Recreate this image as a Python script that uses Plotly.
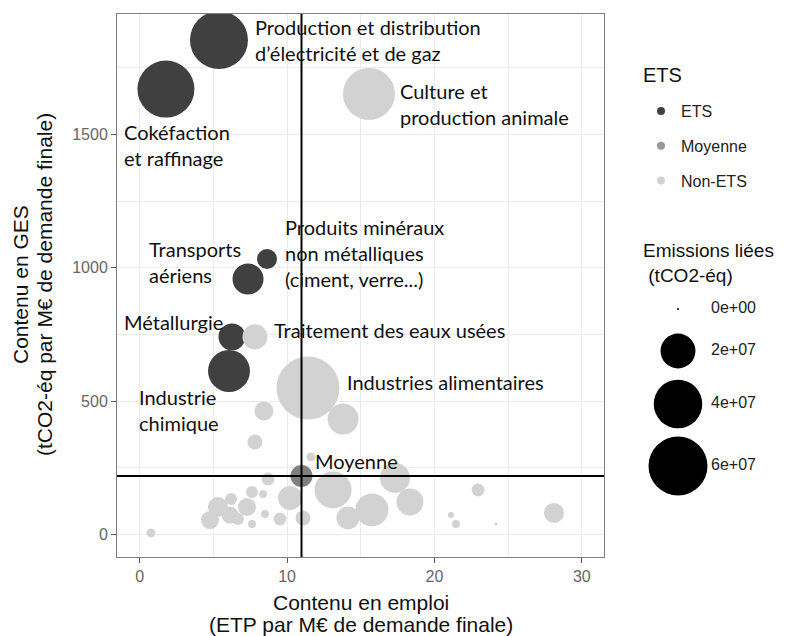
import math
import plotly.graph_objects as go

# ---------------- data ----------------
category_names = ["ETS", "Moyenne", "Non-ETS"]

# ETS sectors
ets_x = [5.38, 1.78, 8.64, 7.35, 6.26, 6.06]
ets_y = [1854, 1670, 1033, 958, 741, 613]
ets_emis = [5.79e7, 5.59e7, 6.0e6, 1.55e7, 1.15e7, 2.95e7]

# Average
moy_x = [10.98]
moy_y = [219]
moy_emis = [7.4e6]

# Non-ETS sectors
non_x = [15.56, 7.82, 11.42, 13.80, 8.43, 7.82, 8.71, 7.62, 8.37, 10.2,
         11.08, 9.52, 8.5, 7.62, 5.31, 4.77, 6.2, 6.13, 7.28, 6.67,
         0.77, 13.12, 17.32, 18.34, 15.76, 14.13, 22.96, 21.12, 21.46, 24.18,
         28.11, 11.62]
non_y = [1652, 741, 549, 433, 463, 347, 208, 159, 152, 137,
         62, 58, 77, 39, 103, 54, 133, 73, 103, 58,
         6, 167, 212, 122, 92, 62, 167, 73, 39, 39,
         81, 291]
non_emis = [4.62e7, 9.8e6, 6.87e7, 1.55e7, 5.3e6, 3.1e6, 2.2e6, 1.85e6, 6.6e5, 8.9e6,
            3.1e6, 2.2e6, 6.6e5, 6.6e5, 6.0e6, 4.7e6, 1.85e6, 4.2e6, 4.7e6, 1.85e6,
            9.0e5, 2.26e7, 1.45e7, 1.15e7, 1.77e7, 8.1e6, 2.2e6, 3.0e5, 6.6e5, 1.8e4,
            6.0e6, 9.0e5]

# labels
label_texts = [
    "Production et distribution<br>d’électricité et de gaz",
    "Culture et<br>production animale",
    "Cokéfaction<br>et raffinage",
    "Produits minéraux<br>non métalliques<br>(ciment, verre...)",
    "Transports<br>aériens",
    "Métallurgie",
    "Traitement des eaux usées",
    "Industries alimentaires",
    "Industrie<br>chimique",
    "Moyenne",
]
label_x = [7.69, 17.53, -1.20, 9.72, 0.50, -1.20, 8.98, 13.93, -0.18, 11.76]
label_y = [1856, 1616, 1460, 1054, 1020, 797, 767, 572, 467, 276]

x_title_lines = ["Contenu en emploi", "(ETP par M€ de demande finale)"]
y_title_lines = ["Contenu en GES", "(tCO2-éq par M€ de demande finale)"]
color_title = "ETS"
size_title = "Emissions liées<br>\u00a0(tCO2-éq)"

size_breaks = [0, 2e7, 4e7, 6e7]
size_labels = ["0e+00", "2e+07", "4e+07", "6e+07"]

x_ticks = [0, 10, 20, 30]
y_ticks = [0, 500, 1000, 1500]

# ---------------- style ----------------
COL = {"ETS": "#404040", "Moyenne": "#7f7f7f", "Non-ETS": "#d2d2d2"}
LEG_COL = {"ETS": "#404040", "Moyenne": "#999999", "Non-ETS": "#d2d2d2"}
SIZE_MIN, SIZE_SPAN, SIZE_REF = 2.0, 57.0, 6e7


def size_px(vals):
    return [SIZE_MIN + SIZE_SPAN * math.sqrt(v / SIZE_REF) for v in vals]


# page offset (default html body margin)
OFF = 8
W, H = 794 - OFF, 636 - OFF
# panel edges in window pixels
PANEL_L, PANEL_R, PANEL_T, PANEL_B = 117, 604, 14, 557
ML = PANEL_L - OFF
MT = PANEL_T - OFF
MB = H - (PANEL_B - OFF)
MR = 10
PW = W - ML - MR
PH = H - MT - MB
dom_main = (PANEL_R - PANEL_L) / PW


def px_x(px):
    return (px - OFF - ML) / PW


def px_y(py):
    return (H - MB - (py - OFF)) / PH


AX_FONT = "Liberation Sans, Arial, sans-serif"
LBL_FONT = "Lato, sans-serif"

fig = go.Figure()

for name, xs, ys, em in [("ETS", ets_x, ets_y, ets_emis),
                         ("Non-ETS", non_x, non_y, non_emis),
                         ("Moyenne", moy_x, moy_y, moy_emis)]:
    fig.add_trace(go.Scatter(
        x=xs, y=ys, mode="markers", name=name, showlegend=False,
        marker=dict(size=size_px(em), sizemode="diameter", color=COL[name],
                    line=dict(width=0), opacity=1),
        hoverinfo="x+y+name",
    ))

# colour legend entries
for name in category_names:
    fig.add_trace(go.Scatter(
        x=[None], y=[None], mode="markers", name=name, legendgroup=name,
        marker=dict(size=8, color=LEG_COL[name]), showlegend=True,
    ))

# size legend (auxiliary axes in window-pixel units)
leg_y = [309, 351, 404, 466]
fig.add_trace(go.Scatter(
    x=[678] * 4, y=leg_y, mode="markers", xaxis="x2", yaxis="y2",
    marker=dict(size=size_px(size_breaks), sizemode="diameter", color="#000000",
                line=dict(width=0), opacity=1),
    showlegend=False, hoverinfo="skip",
))
fig.add_trace(go.Scatter(
    x=[711] * 4, y=leg_y, mode="text", text=size_labels, textposition="middle right",
    xaxis="x2", yaxis="y2", textfont=dict(family=AX_FONT, size=16, color="#222"),
    showlegend=False, hoverinfo="skip",
))

# reference lines through the average
fig.add_shape(type="line", xref="x", yref="paper", x0=moy_x[0], x1=moy_x[0], y0=0, y1=1,
              line=dict(color="black", width=2))
fig.add_shape(type="line", xref="paper", yref="y", x0=0, x1=dom_main, y0=moy_y[0], y1=moy_y[0],
              line=dict(color="black", width=2))

for t, lx, ly in zip(label_texts, label_x, label_y):
    fig.add_annotation(x=lx, y=ly, text=t, showarrow=False, xanchor="left", yanchor="middle",
                       align="left", font=dict(family=LBL_FONT, size=20, color="#111"))

# axis titles (two lines each, tight line spacing as in the reference)
for t, py in zip(x_title_lines, [602, 624]):
    fig.add_annotation(xref="paper", yref="paper", x=px_x(360.5), y=px_y(py), text=t,
                       showarrow=False, xanchor="center", yanchor="middle",
                       font=dict(family=AX_FONT, size=21, color="#111"))
for t, px in zip(y_title_lines, [21, 45]):
    fig.add_annotation(xref="paper", yref="paper", x=px_x(px), y=px_y(285), text=t,
                       showarrow=False, xanchor="center", yanchor="middle", textangle=-90,
                       font=dict(family=AX_FONT, size=21, color="#111"))

# legend titles
fig.add_annotation(xref="paper", yref="paper", x=px_x(641), y=px_y(75),
                   text=color_title, showarrow=False, xanchor="left",
                   yanchor="middle", align="left", font=dict(family=AX_FONT, size=20, color="#111"))
fig.add_annotation(xref="paper", yref="paper", x=px_x(641), y=px_y(263),
                   text=size_title, showarrow=False, xanchor="left",
                   yanchor="middle", align="left", font=dict(family=AX_FONT, size=19, color="#111"))

grid = "#ebebeb"
fig.update_layout(
    width=W, height=H, margin=dict(l=ML, r=MR, t=MT, b=MB, autoexpand=False),
    paper_bgcolor="white", plot_bgcolor="white",
    xaxis=dict(domain=[0, dom_main], range=[-1.54, 31.506], tickvals=x_ticks, automargin=False,
               showgrid=True, gridcolor=grid, gridwidth=1,
               minor=dict(dtick=5, showgrid=True, gridcolor=grid, gridwidth=1),
               zeroline=False, showline=True, mirror=True, linecolor="#7f7f7f", linewidth=1,
               ticks="outside", ticklen=5, tickcolor="#555",
               tickfont=dict(family=AX_FONT, size=16, color="#666")),
    yaxis=dict(range=[-84.4, 1951.6], tickvals=y_ticks, automargin=False,
               showgrid=True, gridcolor=grid, gridwidth=1,
               minor=dict(dtick=250, showgrid=True, gridcolor=grid, gridwidth=1),
               zeroline=False, showline=True, mirror=True, linecolor="#7f7f7f", linewidth=1,
               ticks="outside", ticklen=5, tickcolor="#555",
               tickfont=dict(family=AX_FONT, size=16, color="#666")),
    xaxis2=dict(domain=[px_x(617), 1], range=[617, 784], visible=False, fixedrange=True),
    yaxis2=dict(domain=[0, 1], range=[PANEL_B, PANEL_T], visible=False, fixedrange=True,
                anchor="x2"),
    legend=dict(x=px_x(641), y=px_y(94), xanchor="left", yanchor="top",
                font=dict(family=AX_FONT, size=16, color="#222"),
                tracegroupgap=11, itemsizing="trace", bgcolor="rgba(0,0,0,0)"),
    showlegend=True,
)

fig.write_html("out.html")
